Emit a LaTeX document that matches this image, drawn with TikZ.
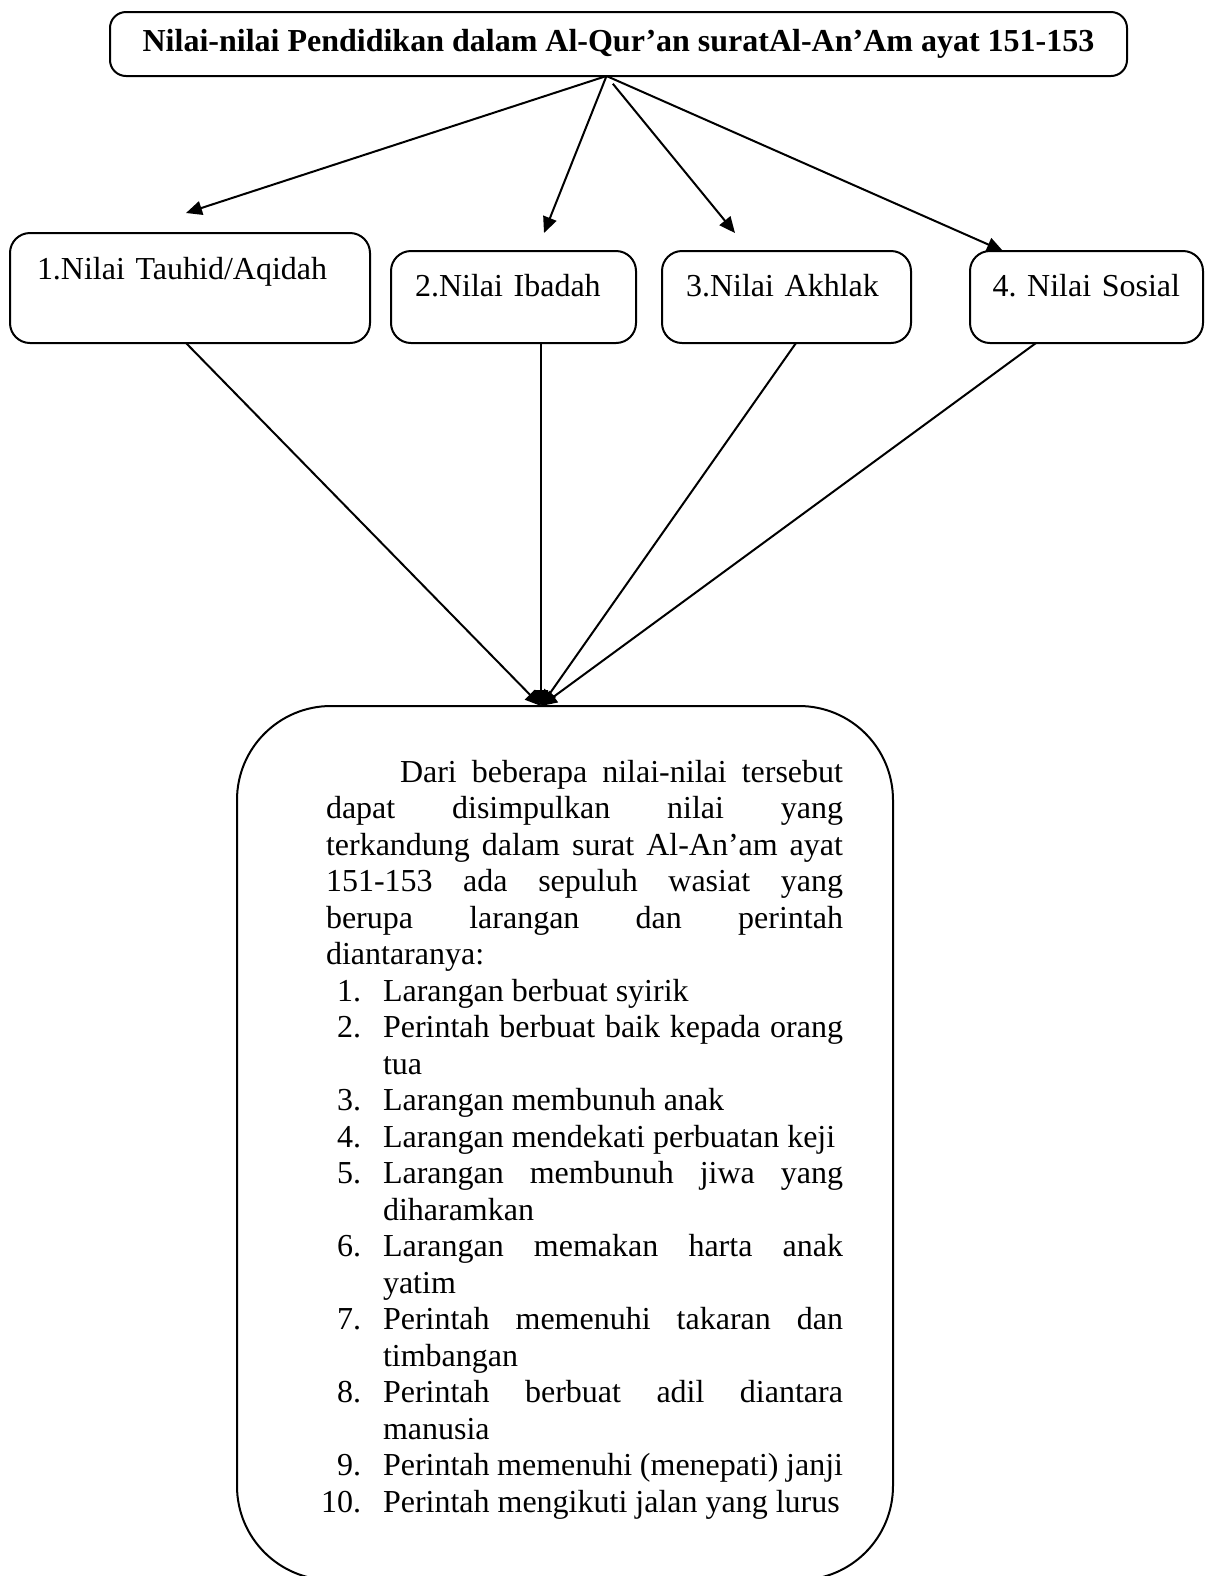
\documentclass[tikz,border=0pt]{standalone}
\usepackage{fontspec}
\setmainfont{Liberation Serif}
\usepackage{enumitem}
\usepackage{tikz}
\usetikzlibrary{arrows.meta}

\begin{document}
\frenchspacing
\begin{tikzpicture}[x=0.5pt,y=-0.5pt,>={Triangle[length=8pt,width=7pt]},line width=1pt,
 nilai/.style={draw,rounded corners=10pt,anchor=north west,inner ysep=0pt,outer sep=0pt,
  align=left,font={\fontsize{16pt}{18.25pt}\selectfont}},
 hasil/.style={draw,rounded corners=47pt,anchor=north west,inner xsep=25pt,inner ysep=0pt,
  outer sep=0pt,text height=38pt,text depth=399pt,font={\fontsize{16pt}{18.25pt}\selectfont}}]
 \useasboundingbox (0,0) rectangle (1212,1576);
 \clip (0,0) rectangle (1212,1576);

 \node[draw,rounded corners=8pt,minimum width=508.5pt,minimum height=32pt,inner sep=0pt,outer sep=0pt,
  font={\fontsize{16pt}{18pt}\selectfont\bfseries}] (judul) at (618.5,44)
  {Nilai-nilai Pendidikan dalam Al-Qur’an suratAl-An’Am ayat 151-153};

 \node[nilai,text width=153pt,inner xsep=13.5pt,text height=23pt,text depth=32pt] (tauhid) at (10,233) {1.Nilai Tauhid/Aqidah};
 \node[nilai,text width=98.5pt,inner xsep=12pt,text height=22.5pt,text depth=23.5pt] (ibadah) at (391,251) {2.Nilai Ibadah};
 \node[nilai,text width=100.5pt,inner xsep=12pt,text height=22.5pt,text depth=23.5pt] (akhlak) at (662,251) {3.Nilai Akhlak};
 \node[nilai,text width=94pt,inner xsep=11.25pt,text height=22.5pt,text depth=23.5pt] (sosial) at (970,251) {4. Nilai Sosial};

 \node[hasil] (kesimpulan) at (237,706) {\hspace*{19.5pt}\parbox[t]{258.5pt}{%
  \hyphenpenalty=10000 \tolerance=10000 \hbadness=10000
  \setlength{\parindent}{37pt}\indent Dari beberapa nilai-nilai tersebut\linebreak
  dapat disimpulkan nilai yang\linebreak
  terkandung dalam surat Al-An’am ayat\linebreak
  151-153 ada sepuluh wasiat yang\linebreak
  berupa larangan dan perintah\linebreak
  diantaranya:
  \begin{enumerate}[label=\arabic*.,leftmargin=28.5pt,labelsep=11pt,itemsep=0pt,topsep=0pt,parsep=0pt,partopsep=0pt]
   \item Larangan berbuat syirik
   \item Perintah berbuat baik kepada orang\linebreak tua
   \item Larangan membunuh anak
   \item Larangan mendekati perbuatan keji
   \item Larangan membunuh jiwa yang\linebreak diharamkan
   \item Larangan memakan harta anak\linebreak yatim
   \item Perintah memenuhi takaran dan\linebreak timbangan
   \item Perintah berbuat adil diantara\linebreak manusia
   \item Perintah memenuhi (menepati) janji
   \item Perintah mengikuti jalan yang lurus
  \end{enumerate}}};

 \coordinate (ujung1) at (186,213);
 \coordinate (ujung2) at (544,233);
 \coordinate (ujung3) at (735,233);

 \path [->] ([xshift=-6pt]judul.south) edge (ujung1)
  edge (ujung2)
  edge [shorten <=5pt] (ujung3)
  edge ([xshift=-41.75pt]sosial.north);

 \path [->] ([xshift=-2pt]tauhid.south) edge ([xshift=-12pt]kesimpulan.north)
  ([xshift=13.75pt]ibadah.south) edge ([xshift=-12pt]kesimpulan.north)
  ([xshift=4.75pt]akhlak.south) edge ([xshift=-12pt]kesimpulan.north)
  ([xshift=-25.25pt]sosial.south) edge ([xshift=-12pt]kesimpulan.north);
\end{tikzpicture}
\end{document}
